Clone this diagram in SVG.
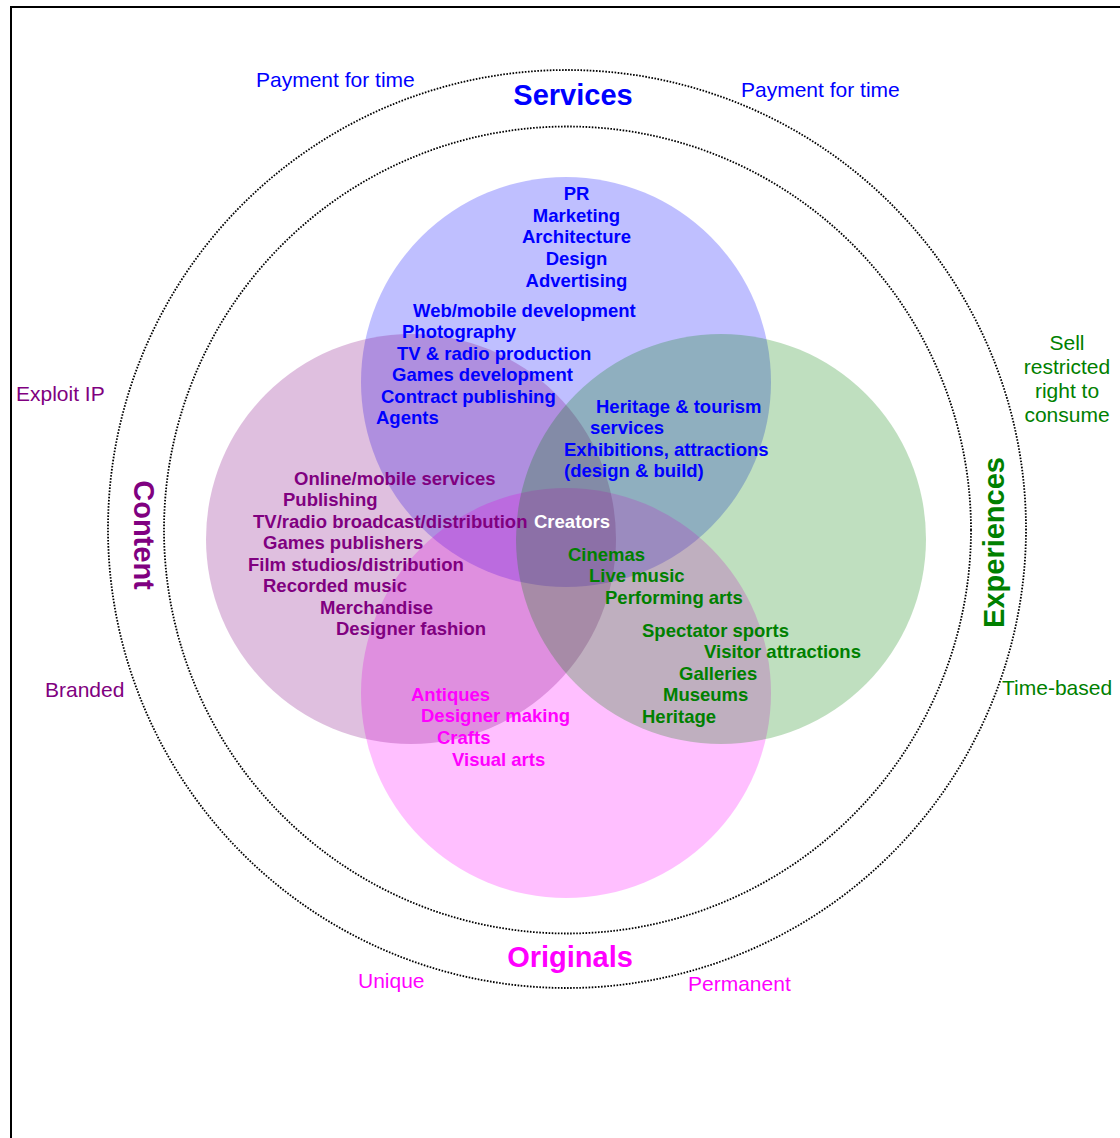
<svg xmlns="http://www.w3.org/2000/svg" width="1120" height="1138" viewBox="0 0 1120 1138">
  <style>
    text { font-family: "Liberation Sans", Arial, sans-serif; }
    .item { font-size: 18.5px; font-weight: bold; }
    .title { font-size: 29px; font-weight: bold; }
    .note { font-size: 21px; }
    .blue { fill: #0000ff; }
    .purple { fill: #800080; }
    .green { fill: #008000; }
    .pink { fill: #ff00ff; }
    .ring { fill: none; stroke: #000; stroke-width: 1.8; stroke-dasharray: 1.6 1.5; }
    .set { fill-opacity: 0.25; }
  </style>

  <rect x="0" y="0" width="1120" height="1138" fill="#ffffff"/>
  <!-- outer frame -->
  <rect x="11" y="7" width="1200" height="1200" fill="none" stroke="#000" stroke-width="2"/>

  <!-- dotted rings -->
  <g id="rings">
    <circle class="ring" cx="567" cy="529" r="459"/>
    <circle class="ring" cx="567.5" cy="530" r="403.5"/>
  </g>

  <!-- the four overlapping sets -->
  <g id="sets">
    <circle id="services-set" class="set" cx="566" cy="382" r="205" fill="#0000ff"/>
    <circle id="originals-set" class="set" cx="566" cy="693" r="205" fill="#ff00ff"/>
    <circle id="content-set" class="set" cx="411" cy="539" r="205" fill="#800080"/>
    <circle id="experiences-set" class="set" cx="721" cy="539" r="205" fill="#008000"/>
  </g>

  <!-- Services -->
  <g id="services">
    <text class="title blue" x="573" y="105" text-anchor="middle">Services</text>
    <text class="note blue" x="256" y="87">Payment for time</text>
    <text class="note blue" x="741" y="97">Payment for time</text>
    <g class="item blue" text-anchor="middle">
      <text x="576.5" y="200">PR</text>
      <text x="576.5" y="222">Marketing</text>
      <text x="576.5" y="243">Architecture</text>
      <text x="576.5" y="265">Design</text>
      <text x="576.5" y="287">Advertising</text>
    </g>
    <g class="item blue">
      <text x="413" y="317">Web/mobile development</text>
      <text x="402" y="338">Photography</text>
      <text x="397" y="360">TV &amp; radio production</text>
      <text x="392" y="381">Games development</text>
      <text x="381" y="403">Contract publishing</text>
      <text x="376" y="424">Agents</text>
      <text x="596" y="413">Heritage &amp; tourism</text>
      <text x="590" y="434">services</text>
      <text x="564" y="456">Exhibitions, attractions</text>
      <text x="564" y="477">(design &amp; build)</text>
    </g>
  </g>

  <!-- Content -->
  <g id="content">
    <text class="title purple" transform="translate(134,535) rotate(90)" text-anchor="middle">Content</text>
    <text class="note purple" x="16" y="401">Exploit IP</text>
    <text class="note purple" x="45" y="697">Branded</text>
    <g class="item purple">
      <text x="294" y="485">Online/mobile services</text>
      <text x="283" y="506">Publishing</text>
      <text x="253" y="528">TV/radio broadcast/distribution</text>
      <text x="263" y="549">Games publishers</text>
      <text x="248" y="571">Film studios/distribution</text>
      <text x="263" y="592">Recorded music</text>
      <text x="320" y="614">Merchandise</text>
      <text x="336" y="635">Designer fashion</text>
    </g>
  </g>

  <!-- Creators at the centre -->
  <g id="creators">
    <text class="item" x="534" y="528" fill="#ffffff">Creators</text>
  </g>

  <!-- Experiences -->
  <g id="experiences">
    <text class="title green" transform="translate(1004,542.5) rotate(-90)" text-anchor="middle">Experiences</text>
    <g class="note green" text-anchor="middle">
      <text x="1067" y="350">Sell</text>
      <text x="1067" y="374">restricted</text>
      <text x="1067" y="398">right to</text>
      <text x="1067" y="422">consume</text>
    </g>
    <text class="note green" x="1002" y="695">Time-based</text>
    <g class="item green">
      <text x="568" y="561">Cinemas</text>
      <text x="589" y="582">Live music</text>
      <text x="605" y="604">Performing arts</text>
      <text x="642" y="637">Spectator sports</text>
      <text x="704" y="658">Visitor attractions</text>
      <text x="679" y="680">Galleries</text>
      <text x="663" y="701">Museums</text>
      <text x="642" y="723">Heritage</text>
    </g>
  </g>

  <!-- Originals -->
  <g id="originals">
    <text class="title pink" x="570" y="967" text-anchor="middle">Originals</text>
    <text class="note pink" x="358" y="988">Unique</text>
    <text class="note pink" x="688" y="991">Permanent</text>
    <g class="item pink">
      <text x="411" y="701">Antiques</text>
      <text x="421" y="722">Designer making</text>
      <text x="437" y="744">Crafts</text>
      <text x="452" y="766">Visual arts</text>
    </g>
  </g>
</svg>
